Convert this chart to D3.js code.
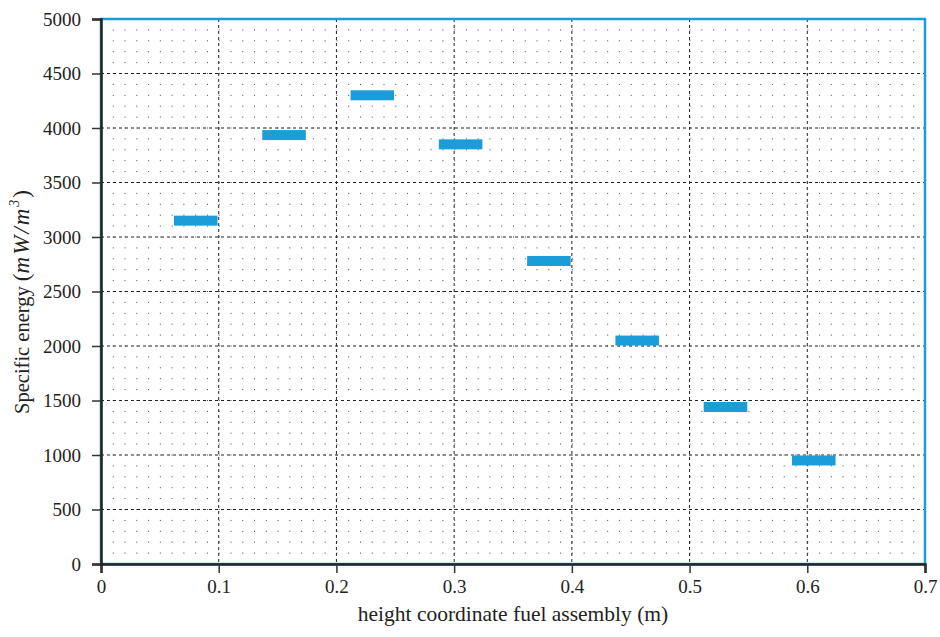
<!DOCTYPE html>
<html><head><meta charset="utf-8">
<script src="https://cdn.jsdelivr.net/npm/d3@7"></script>
<style>body{margin:0;background:#fff}</style>
</head><body>
<svg id="c" width="940" height="637"></svg>
<script>
const xStart = [0.062,0.137,0.212,0.287,0.362,0.437,0.512,0.587];
const xEnd   = [0.099,0.174,0.249,0.324,0.399,0.474,0.549,0.624];
const energy = [3150,3935,4300,3850,2780,2050,1440,950];
const xTicks = [0,0.1,0.2,0.3,0.4,0.5,0.6,0.7];
const yTicks = [0,500,1000,1500,2000,2500,3000,3500,4000,4500,5000];
const xLabel = "height coordinate fuel assembly (m)";

const svg = d3.select("#c");
const m = {l:101,r:925,t:19,b:564};
const x = d3.scaleLinear().domain([0,0.7]).range([m.l,m.r]);
const y = d3.scaleLinear().domain([0,5000]).range([m.b,m.t]);
const font = "'Liberation Serif', 'DejaVu Serif', serif";

// minor dot grid
const minorY = d3.range(0,5001,100);
const g = svg.append("g");
minorY.forEach(v=>{
  g.append("line").attr("x1",m.l).attr("x2",m.r).attr("y1",y(v)).attr("y2",y(v))
   .attr("stroke","#444").attr("stroke-width",1)
   .attr("stroke-dasharray", `1,${(x(0.01)-x(0))-1}`);
});
// major grid
xTicks.slice(1,-1).forEach(v=>{
  g.append("line").attr("x1",x(v)).attr("x2",x(v)).attr("y1",m.t).attr("y2",m.b)
   .attr("stroke","#222").attr("stroke-width",1).attr("stroke-dasharray","3,3");
});
yTicks.slice(1,-1).forEach(v=>{
  g.append("line").attr("x1",m.l).attr("x2",m.r).attr("y1",y(v)).attr("y2",y(v))
   .attr("stroke","#222").attr("stroke-width",1).attr("stroke-dasharray","3,3");
});

// bars
svg.append("g").selectAll("rect").data(energy).join("rect")
  .attr("x",(d,i)=>x(xStart[i])).attr("width",(d,i)=>x(xEnd[i])-x(xStart[i]))
  .attr("y",d=>y(d)-5).attr("height",10).attr("fill","#1b9dd9");

// frame
svg.append("rect").attr("x",m.l).attr("y",m.t).attr("width",m.r-m.l).attr("height",m.b-m.t)
  .attr("fill","none").attr("stroke","#1b9dd9").attr("stroke-width",2.5);

// axes
const xa = svg.append("g").attr("transform",`translate(0,${m.b})`)
  .call(d3.axisBottom(x).tickValues(xTicks).tickFormat(d=>d===0?"0":d3.format(".1f")(d)).tickSize(9).tickPadding(7));
const ya = svg.append("g").attr("transform",`translate(${m.l},0)`)
  .call(d3.axisLeft(y).tickValues(yTicks).tickFormat(d3.format("d")).tickSize(9).tickPadding(11));
[xa,ya].forEach(a=>{
  a.attr("font-family",font).attr("font-size",19);
  a.select(".domain").attr("stroke","#222").attr("stroke-width",2.5);
  a.selectAll(".tick line").attr("stroke","#333").attr("stroke-width",1.5);
  a.selectAll("text").attr("font-family",font).attr("font-size",19).attr("fill","#222");
});

svg.append("text").attr("x",513).attr("y",621).attr("text-anchor","middle")
  .attr("font-family",font).attr("font-size",21.5).attr("fill","#222").text(xLabel);

const yt = svg.append("text").attr("transform",`translate(29,302) rotate(-90)`)
  .attr("text-anchor","middle").attr("font-family",font).attr("font-size",20.5).attr("fill","#222");
yt.append("tspan").text("Specific energy ");
yt.append("tspan").attr("font-size",23).text("(");
yt.append("tspan").attr("font-style","italic").attr("font-size",23).attr("letter-spacing",2).text("mW/m");
yt.append("tspan").attr("font-style","italic").attr("font-size",14).attr("dy",-10).text("3");
yt.append("tspan").attr("font-size",23).attr("dy",10).attr("dx",2).text(")");
</script>
</body></html>
